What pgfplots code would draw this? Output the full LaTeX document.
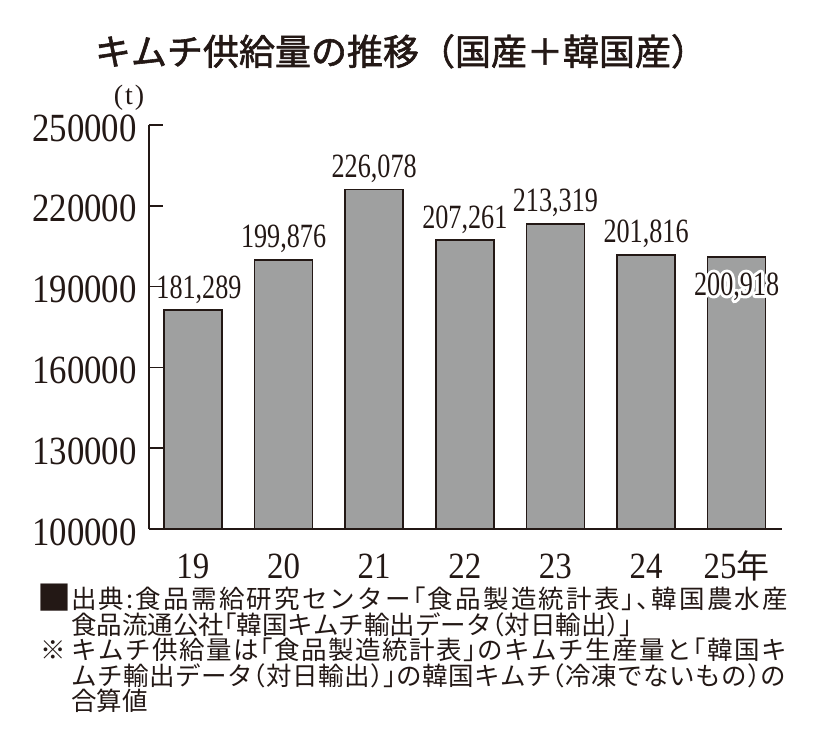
\documentclass[border=0pt]{standalone}
\usepackage{fontspec}
\usepackage{pgfplots}
\pgfplotsset{compat=1.18}
\setmainfont{Liberation Serif}
\newfontfamily\ytf[FakeStretch=0.87]{Liberation Serif}
\newfontfamily\xtf[FakeStretch=0.89]{Liberation Serif}
\newfontfamily\lbf[FakeStretch=0.77]{Liberation Serif}
\newfontfamily\jp{Noto Sans CJK JP}
\newfontfamily\jpt[FakeBold=1.6]{Noto Sans CJK JP}
\newfontfamily\jpn[RawFeature=+halt]{Noto Sans CJK JP}
\definecolor{ink}{HTML}{231815}
\definecolor{bargray}{HTML}{9FA0A0}
\newcommand\spreadloop[1]{\ifx#1\relax\else#1\hfil\expandafter\spreadloop\fi}
\newcommand\spreadline[2]{\hbox to #1{\spreadloop#2\relax\unskip}}
\begin{document}
\begin{tikzpicture}
\useasboundingbox (0pt,0pt) rectangle (820pt,750pt);
\begin{axis}[
  at={(149pt,221pt)}, anchor=south west,
  scale only axis, width=633pt, height=404pt,
  xmin=-0.485, xmax=6.5, ymin=100000, ymax=250000,
  enlargelimits=false, clip=false,
  axis lines*=left,
  axis line style={line width=1.5pt, color=ink},
  ytick={100000,130000,160000,190000,220000,250000},
  yticklabels={100000,130000,160000,190000,220000,250000},
  scaled y ticks=false,
  xtick={0,1,2,3,4,5,6},
  xticklabels={19,20,21,22,23,24,25{\jp\fontsize{33}{33}\selectfont 年}},
  tick align=inside, major tick length=14pt,
  ytick style={line width=1.5pt, color=ink},
  xtick style={draw=none},
  yticklabel style={font=\ytf\fontsize{40}{40}\selectfont, text=ink, anchor=east, inner sep=0pt, xshift=-12pt, yshift=-3pt},
  xticklabel style={font=\xtf\fontsize{37}{37}\selectfont, text=ink, anchor=base, inner sep=0pt, yshift=-36pt},
  ybar, bar width=0.64, bar shift=0pt,
  nodes near coords, point meta=explicit symbolic,
  nodes near coords style={font=\lbf\fontsize{34}{34}\selectfont, text=ink, anchor=base, inner sep=0pt, yshift=12pt},
]
\addplot[fill=bargray, draw=ink, line width=1.5pt] coordinates {
  (0,181289) []
  (1,199876) [199,876]
  (2,226078) [226,078]
  (3,207261) [207,261]
  (4,213319) [213,319]
  (5,201816) [201,816]
  (6,200918) []
};
\coordinate (F) at (axis cs:0,181289);
\coordinate (L) at (axis cs:6,200918);
\end{axis}
\node[text=ink, font=\lbf\fontsize{34}{34}\selectfont, anchor=base, inner sep=0pt, yshift=12pt, xshift=6pt] at (F) {181,289};
\node[text=white, font=\lbf\fontsize{34}{34}\selectfont, anchor=base, inner sep=0pt, yshift=-38pt] at (L) {\special{pdf:literal direct 1 Tr 6 w 1 J 1 j 1 1 1 RG}200,918\special{pdf:literal direct 0 Tr}};
\node[text=ink, font=\lbf\fontsize{34}{34}\selectfont, anchor=base, inner sep=0pt, yshift=-38pt] at (L) {200,918};
% title
\node[anchor=base, font=\jpt\fontsize{36}{36}\selectfont, text=ink, inner sep=0pt] at (401pt,685pt) {キムチ供給量の推移（国産＋韓国産）};
\node[font=\fontsize{28}{28}\selectfont, text=ink, inner sep=0pt] at (129pt,652pt) {(\kern2pt t\kern2pt)};
% footnotes
\begin{scope}[every node/.style={anchor=base west, inner sep=0pt, text=ink, font=\jpn\fontsize{25.5}{25.5}\selectfont}]
\node[font=\jp\fontsize{34}{34}\selectfont] at (37pt,139pt) {■};
\node at (71pt,141pt) {\spreadline{717pt}{出典:食品需給研究センター「食品製造統計表」、韓国農水産}};
\node at (71pt,115.5pt) {食品流通公社「韓国キムチ輸出データ（対日輸出）」};
\node at (40pt,90pt) {※};
\node at (71pt,90pt) {\spreadline{716pt}{キムチ供給量は「食品製造統計表」のキムチ生産量と「韓国キ}};
\node at (71pt,64.5pt) {\spreadline{715pt}{ムチ輸出データ（対日輸出）」の韓国キムチ（冷凍でないもの）の}};
\node at (71pt,39pt) {合算値};
\end{scope}
\end{tikzpicture}
\end{document}
